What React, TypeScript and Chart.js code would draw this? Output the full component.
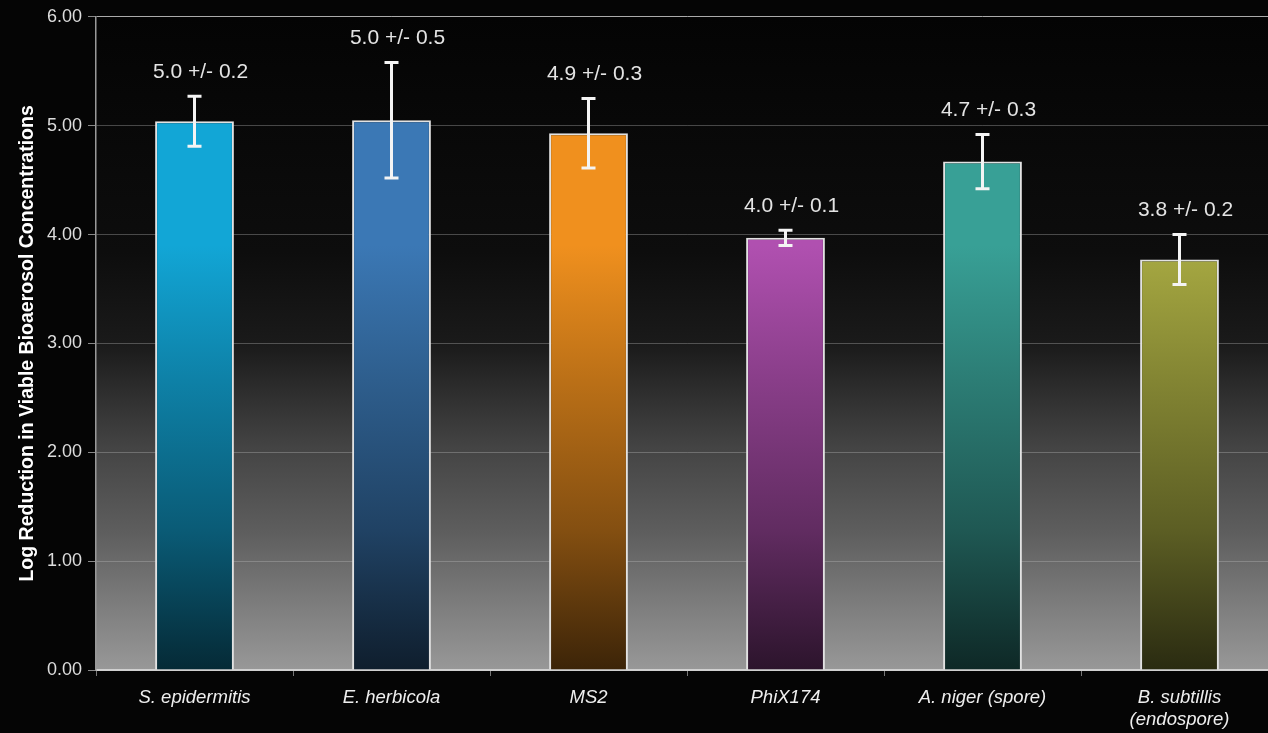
import { useEffect, useRef } from "react";
import { Chart, registerables } from "chart.js";
Chart.register(...registerables);

const categories: (string | string[])[] = [
  "S. epidermitis",
  "E. herbicola",
  "MS2",
  "PhiX174",
  "A. niger (spore)",
  ["B. subtillis", "(endospore)"],
];
const logReduction = [5.04, 5.05, 4.93, 3.97, 4.67, 3.77];
const errorValues = [0.23, 0.53, 0.32, 0.07, 0.25, 0.23];
const valueLabels = ["5.0 +/- 0.2", "5.0 +/- 0.5", "4.9 +/- 0.3", "4.0 +/- 0.1", "4.7 +/- 0.3", "3.8 +/- 0.2"];
const barColors = ["#12a6d6", "#3b78b5", "#f0901e", "#b050b0", "#38a096", "#a8aa42"];
const yAxisTitle = "Log Reduction in Viable Bioaerosol Concentrations";

const FONT = "'Liberation Sans', Arial, Helvetica, sans-serif";

function shade(hex: string, f: number) {
  const n = parseInt(hex.slice(1), 16);
  const r = Math.round(((n >> 16) & 255) * f);
  const g = Math.round(((n >> 8) & 255) * f);
  const b = Math.round((n & 255) * f);
  return `rgb(${r},${g},${b})`;
}

const bgPlugin = {
  id: "bgPlugin",
  beforeDraw(chart: any) {
    const { ctx, chartArea, width, height } = chart;
    ctx.save();
    ctx.fillStyle = "#050505";
    ctx.fillRect(0, 0, width, height);
    if (chartArea) {
      const g = ctx.createLinearGradient(0, chartArea.top, 0, chartArea.bottom);
      g.addColorStop(0, "#040404");
      g.addColorStop(0.36, "#0d0d0d");
      g.addColorStop(0.5, "#1a1a1a");
      g.addColorStop(0.56, "#2a2a2a");
      g.addColorStop(0.66, "#444444");
      g.addColorStop(0.79, "#5e5e5e");
      g.addColorStop(0.89, "#7a7a7a");
      g.addColorStop(1, "#989898");
      ctx.fillStyle = g;
      ctx.fillRect(chartArea.left, chartArea.top, chartArea.right - chartArea.left, chartArea.bottom - chartArea.top);
    }
    ctx.restore();
  },
};

const errorPlugin = {
  id: "errorPlugin",
  afterDatasetsDraw(chart: any) {
    const { ctx } = chart;
    const yScale = chart.scales.y;
    const meta = chart.getDatasetMeta(0);
    ctx.save();
    meta.data.forEach((bar: any, i: number) => {
      const x = bar.x;
      const v = logReduction[i];
      const e = errorValues[i];
      const yTop = yScale.getPixelForValue(v + e);
      const yBot = yScale.getPixelForValue(v - e);
      ctx.strokeStyle = "#f4f4f4";
      ctx.lineWidth = 3;
      ctx.beginPath();
      ctx.moveTo(x, yTop);
      ctx.lineTo(x, yBot);
      ctx.moveTo(x - 7, yTop);
      ctx.lineTo(x + 7, yTop);
      ctx.moveTo(x - 7, yBot);
      ctx.lineTo(x + 7, yBot);
      ctx.stroke();
      ctx.fillStyle = "#e4e4e4";
      ctx.font = `21px ${FONT}`;
      ctx.textAlign = "center";
      ctx.textBaseline = "middle";
      ctx.fillText(valueLabels[i], x + 6, yTop - 24);
    });
    ctx.restore();
  },
};

export default function App() {
  const ref = useRef<HTMLCanvasElement | null>(null);
  useEffect(() => {
    if (!ref.current) return;
    Chart.defaults.font.family = FONT;
    const chart = new Chart(ref.current, {
      type: "bar",
      data: {
        labels: categories,
        datasets: [
          {
            data: logReduction,
            backgroundColor: (c: any) => {
              const area = c.chart.chartArea;
              const col = barColors[c.dataIndex % barColors.length];
              if (!area) return col;
              const g = c.chart.ctx.createLinearGradient(0, area.top, 0, area.bottom);
              g.addColorStop(0, col);
              g.addColorStop(0.35, col);
              g.addColorStop(0.556, shade(col, 0.78));
              g.addColorStop(0.786, shade(col, 0.55));
              g.addColorStop(1, shade(col, 0.25));
              return g;
            },
            borderColor: "#e2e2e2",
            borderWidth: 2,
            barPercentage: 0.4,
            categoryPercentage: 1,
          },
        ],
      },
      options: {
        responsive: true,
        maintainAspectRatio: false,
        animation: false,
        layout: { padding: { top: 10, right: 2, left: 0, bottom: 0 } },
        plugins: { legend: { display: false }, tooltip: { enabled: false } },
        scales: {
          x: {
            afterFit: (s: any) => {
              s.height = 63;
            },
            grid: { display: true, drawOnChartArea: false, tickLength: 6, color: "#777" },
            border: { display: true, color: "#d0d0d0", width: 2 },
            ticks: {
              color: "#eeeeee",
              font: { size: 18.5, style: "italic" },
              padding: 11,
              maxRotation: 0,
              autoSkip: false,
            },
          },
          y: {
            min: 0,
            max: 6,
            afterFit: (s: any) => {
              s.width = 96;
            },
            ticks: {
              stepSize: 1,
              color: "#dddddd",
              font: { size: 18 },
              padding: 6,
              callback: (v: any) => Number(v).toFixed(2),
            },
            grid: {
              color: (c: any) => (c.tick && c.tick.value === 6 ? "#aaaaaa" : "rgba(190,190,190,0.35)"),
              tickLength: 8,
              tickColor: "#888",
            },
            border: { display: true, color: "#999", width: 1.5 },
            title: {
              display: true,
              text: yAxisTitle,
              color: "#ffffff",
              font: { size: 19.5, weight: "bold" },
              padding: { top: 16, bottom: 0 },
            },
          },
        },
      },
      plugins: [bgPlugin, errorPlugin],
    });
    return () => chart.destroy();
  }, []);
  return (
    <div style={{ position: "fixed", left: 0, top: 0, width: 1280, height: 733, background: "#050505" }}>
      <canvas ref={ref} />
    </div>
  );
}
